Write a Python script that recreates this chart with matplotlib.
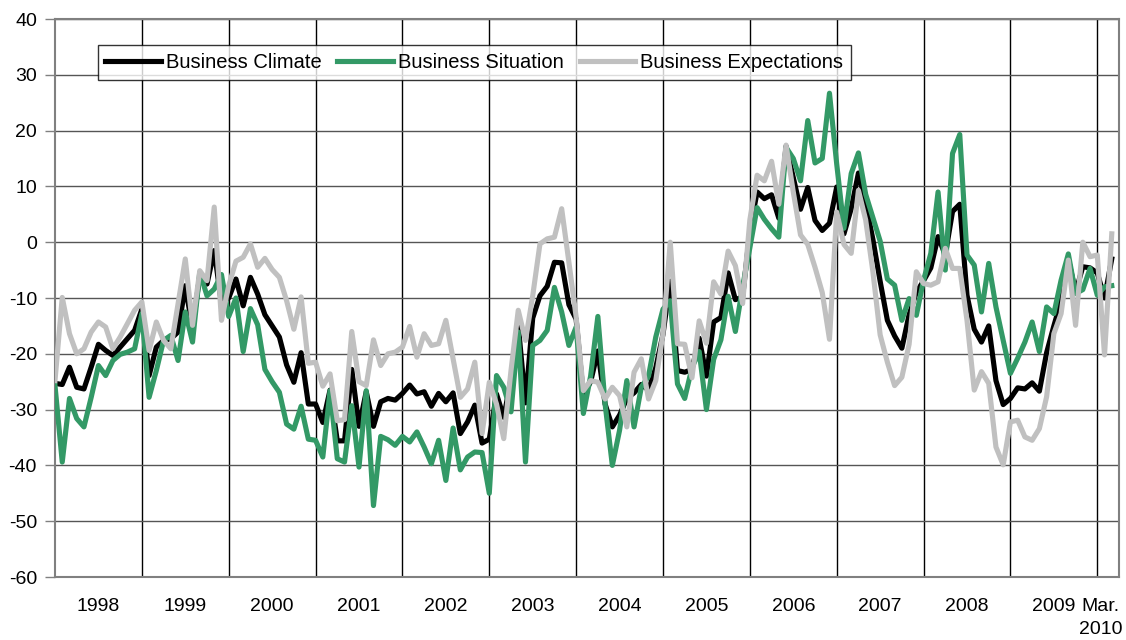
import numpy as np
import matplotlib
matplotlib.use("Agg")
import matplotlib.pyplot as plt

# monthly balances, Jan 1998 .. Mar 2010
climate = [
    -25.3, -25.5, -22.4, -26.0, -26.3, -22.4, -18.3, -19.4, -20.3, -18.8, -17.3, -15.8,
    -12.0, -23.9, -18.8, -17.6, -17.3, -16.1, -7.8, -15.5, -6.0, -7.5, -1.5, -11.0,
    -10.0, -6.6, -11.4, -6.3, -9.3, -13.0, -15.0, -17.0, -22.0, -25.1, -19.8, -29.0,
    -29.0, -32.3, -26.5, -35.6, -35.6, -22.8, -33.0, -26.8, -33.0, -28.6, -28.0, -28.3,
    -27.1, -25.6, -27.2, -26.8, -29.4, -27.1, -28.6, -27.0, -34.3, -32.2, -29.2, -36.0,
    -35.3, -27.2, -31.4, -24.5, -14.8, -28.8, -13.6, -9.6, -7.9, -3.6, -3.7, -11.2,
    -13.8, -27.5, -25.0, -19.5, -29.0, -33.1, -31.0, -28.0, -27.0, -25.5, -26.5, -22.5,
    -16.5, -7.0, -23.0, -23.3, -22.8, -17.2, -24.0, -14.3, -13.5, -5.5, -10.3, -9.8,
    2.0, 9.0, 7.8, 8.5, 4.3, 17.2, 11.6, 5.9, 9.8, 3.9, 2.1, 3.4,
    9.9, 1.5, 6.0, 12.4, 7.0, 0.5, -7.0, -14.0, -16.8, -19.0, -13.0, -9.0,
    -6.9, -4.6, 1.0, -2.3, 5.5, 6.8, -9.5, -15.6, -17.9, -15.0, -24.8, -29.1,
    -28.0, -26.1, -26.3, -25.2, -26.7, -19.8, -15.0, -10.5, -3.0, -9.0, -4.4, -4.6,
    -5.5, -10.0, -3.0,
]
situation = [
    -25.7, -39.4, -28.0, -31.6, -33.1, -27.8, -22.1, -23.9, -21.2, -20.1, -19.7, -19.1,
    -12.8, -27.8, -23.0, -17.6, -16.7, -21.2, -12.5, -17.9, -5.4, -9.6, -8.4, -5.8,
    -13.3, -10.0, -19.6, -11.9, -14.8, -22.8, -25.0, -26.9, -32.6, -33.5, -29.4, -35.3,
    -35.5, -38.5, -26.6, -38.8, -39.4, -29.3, -40.3, -26.6, -47.2, -34.8, -35.4, -36.4,
    -34.8, -35.8, -34.0, -36.7, -39.7, -35.5, -42.7, -33.3, -40.8, -38.5, -37.6, -37.7,
    -45.0, -23.9, -26.0, -30.4, -16.1, -39.4, -18.5, -17.6, -15.8, -8.1, -12.5, -18.5,
    -15.2, -30.7, -24.0, -13.3, -29.0, -40.0, -33.7, -24.8, -33.1, -26.0, -24.0, -17.0,
    -12.0, -10.5, -25.4, -28.0, -22.5, -19.6, -30.0, -21.0, -17.5, -9.7, -16.0, -8.0,
    -1.0, 6.2, 4.1, 2.4, 0.9, 17.0, 15.0, 11.0, 21.8, 14.2, 15.0, 26.7,
    14.0, 2.5, 12.3, 16.0, 8.6, 4.4, 0.2, -6.6, -7.7, -14.0, -10.1, -13.1,
    -6.8, -2.0, 9.0, -5.0, 15.9, 19.3, -2.3, -4.1, -12.5, -3.8, -11.6, -17.6,
    -23.5, -20.8, -17.9, -14.3, -19.6, -11.6, -12.8, -6.8, -2.1, -9.2, -8.5, -4.7,
    -9.5, -8.0, -7.8,
]
expectations = [
    -24.8, -9.9, -16.4, -20.0, -19.1, -16.1, -14.3, -15.2, -19.1, -17.0, -14.6, -12.2,
    -10.7, -19.4, -14.3, -17.6, -19.1, -11.0, -3.0, -14.9, -5.1, -6.9, 6.3, -14.0,
    -7.8, -3.4, -2.7, -0.3, -4.5, -2.9, -4.9, -6.3, -10.5, -15.6, -9.8, -21.7,
    -21.5, -25.8, -23.6, -32.0, -31.8, -16.0, -25.0, -25.7, -17.5, -22.1, -20.0, -19.7,
    -18.8, -15.1, -20.6, -16.4, -18.5, -18.2, -14.0, -20.9, -27.8, -26.3, -21.5, -34.3,
    -25.1, -29.0, -35.2, -23.0, -12.2, -17.6, -9.6, -0.3, 0.6, 0.9, 6.0, -3.6,
    -13.4, -26.6, -24.8, -25.1, -28.1, -26.0, -27.5, -33.1, -23.3, -20.9, -28.1, -24.8,
    -16.4, 0.0, -18.2, -18.3, -24.3, -14.1, -18.1, -7.1, -9.3, -1.6, -4.2, -11.0,
    4.0, 12.0, 11.0, 14.5, 6.8, 17.4, 9.0, 1.3, -0.4, -4.5, -9.0, -17.4,
    5.4, -0.4, -2.0, 9.3, 4.0, -5.3, -16.6, -21.5, -25.7, -24.2, -18.3, -5.3,
    -7.4, -7.7, -7.1, -1.1, -4.7, -4.7, -14.0, -26.5, -23.2, -25.3, -36.7, -39.9,
    -32.2, -31.9, -34.9, -35.5, -33.4, -27.7, -16.4, -12.8, -3.2, -14.9, 0.0, -2.6,
    -2.3, -20.2, 1.5,
]

series_names = ["Business Climate", "Business Situation", "Business Expectations"]
series_colors = ["#000000", "#339966", "#c0c0c0"]
year_labels = [str(y) for y in range(1998, 2010)] + ["Mar.\n2010"]
y_ticks = list(range(-60, 41, 10))

plt.rcParams["font.family"] = ["Liberation Sans", "DejaVu Sans"]
plt.rcParams["font.size"] = 14
plt.rcParams["axes.unicode_minus"] = False

W, H = 1126, 640
fig = plt.figure(figsize=(W / 100, H / 100), dpi=100)
ax = fig.add_axes([55 / W, 1 - 577 / H, (1119 - 55) / W, (577 - 19) / H])

months = np.arange(len(climate))
for vals, name, col in zip([climate, situation, expectations], series_names, series_colors):
    ax.plot(months, vals, color=col, lw=3.7, label=name, zorder=3)

ax.set_xlim(0, len(climate))
ax.set_ylim(-60, 40)

# year boundaries as major ticks (grid only), year names centred as minor ticks
ax.set_xticks(np.arange(12, len(climate), 12))
ax.set_xticklabels([])
ax.set_xticks(list(np.arange(6, 12 * 12, 12)) + [144.5], minor=True)
ax.set_xticklabels(year_labels, minor=True, linespacing=1.5)
ax.tick_params(axis="x", which="both", length=0)
ax.tick_params(axis="x", which="minor", pad=15)

ax.set_yticks(y_ticks)
ax.tick_params(axis="y", length=7, width=1, color="#808080", pad=6)

ax.grid(axis="x", color="black", lw=1, zorder=1)
ax.grid(axis="y", color="#555555", lw=1, zorder=1)
ax.set_axisbelow(True)
for sp in ax.spines.values():
    sp.set_color("#808080")
    sp.set_linewidth(1.5)

leg = ax.legend(loc="upper left", bbox_to_anchor=(0.04, 0.953), ncol=3,
                frameon=True, fancybox=False, fontsize=14.5, handlelength=2.75,
                handletextpad=0.25, columnspacing=0.8, borderpad=0.38,
                borderaxespad=0)
leg.get_frame().set_edgecolor("black")
leg.get_frame().set_linewidth(1)

fig.savefig("out.png", dpi=100)
